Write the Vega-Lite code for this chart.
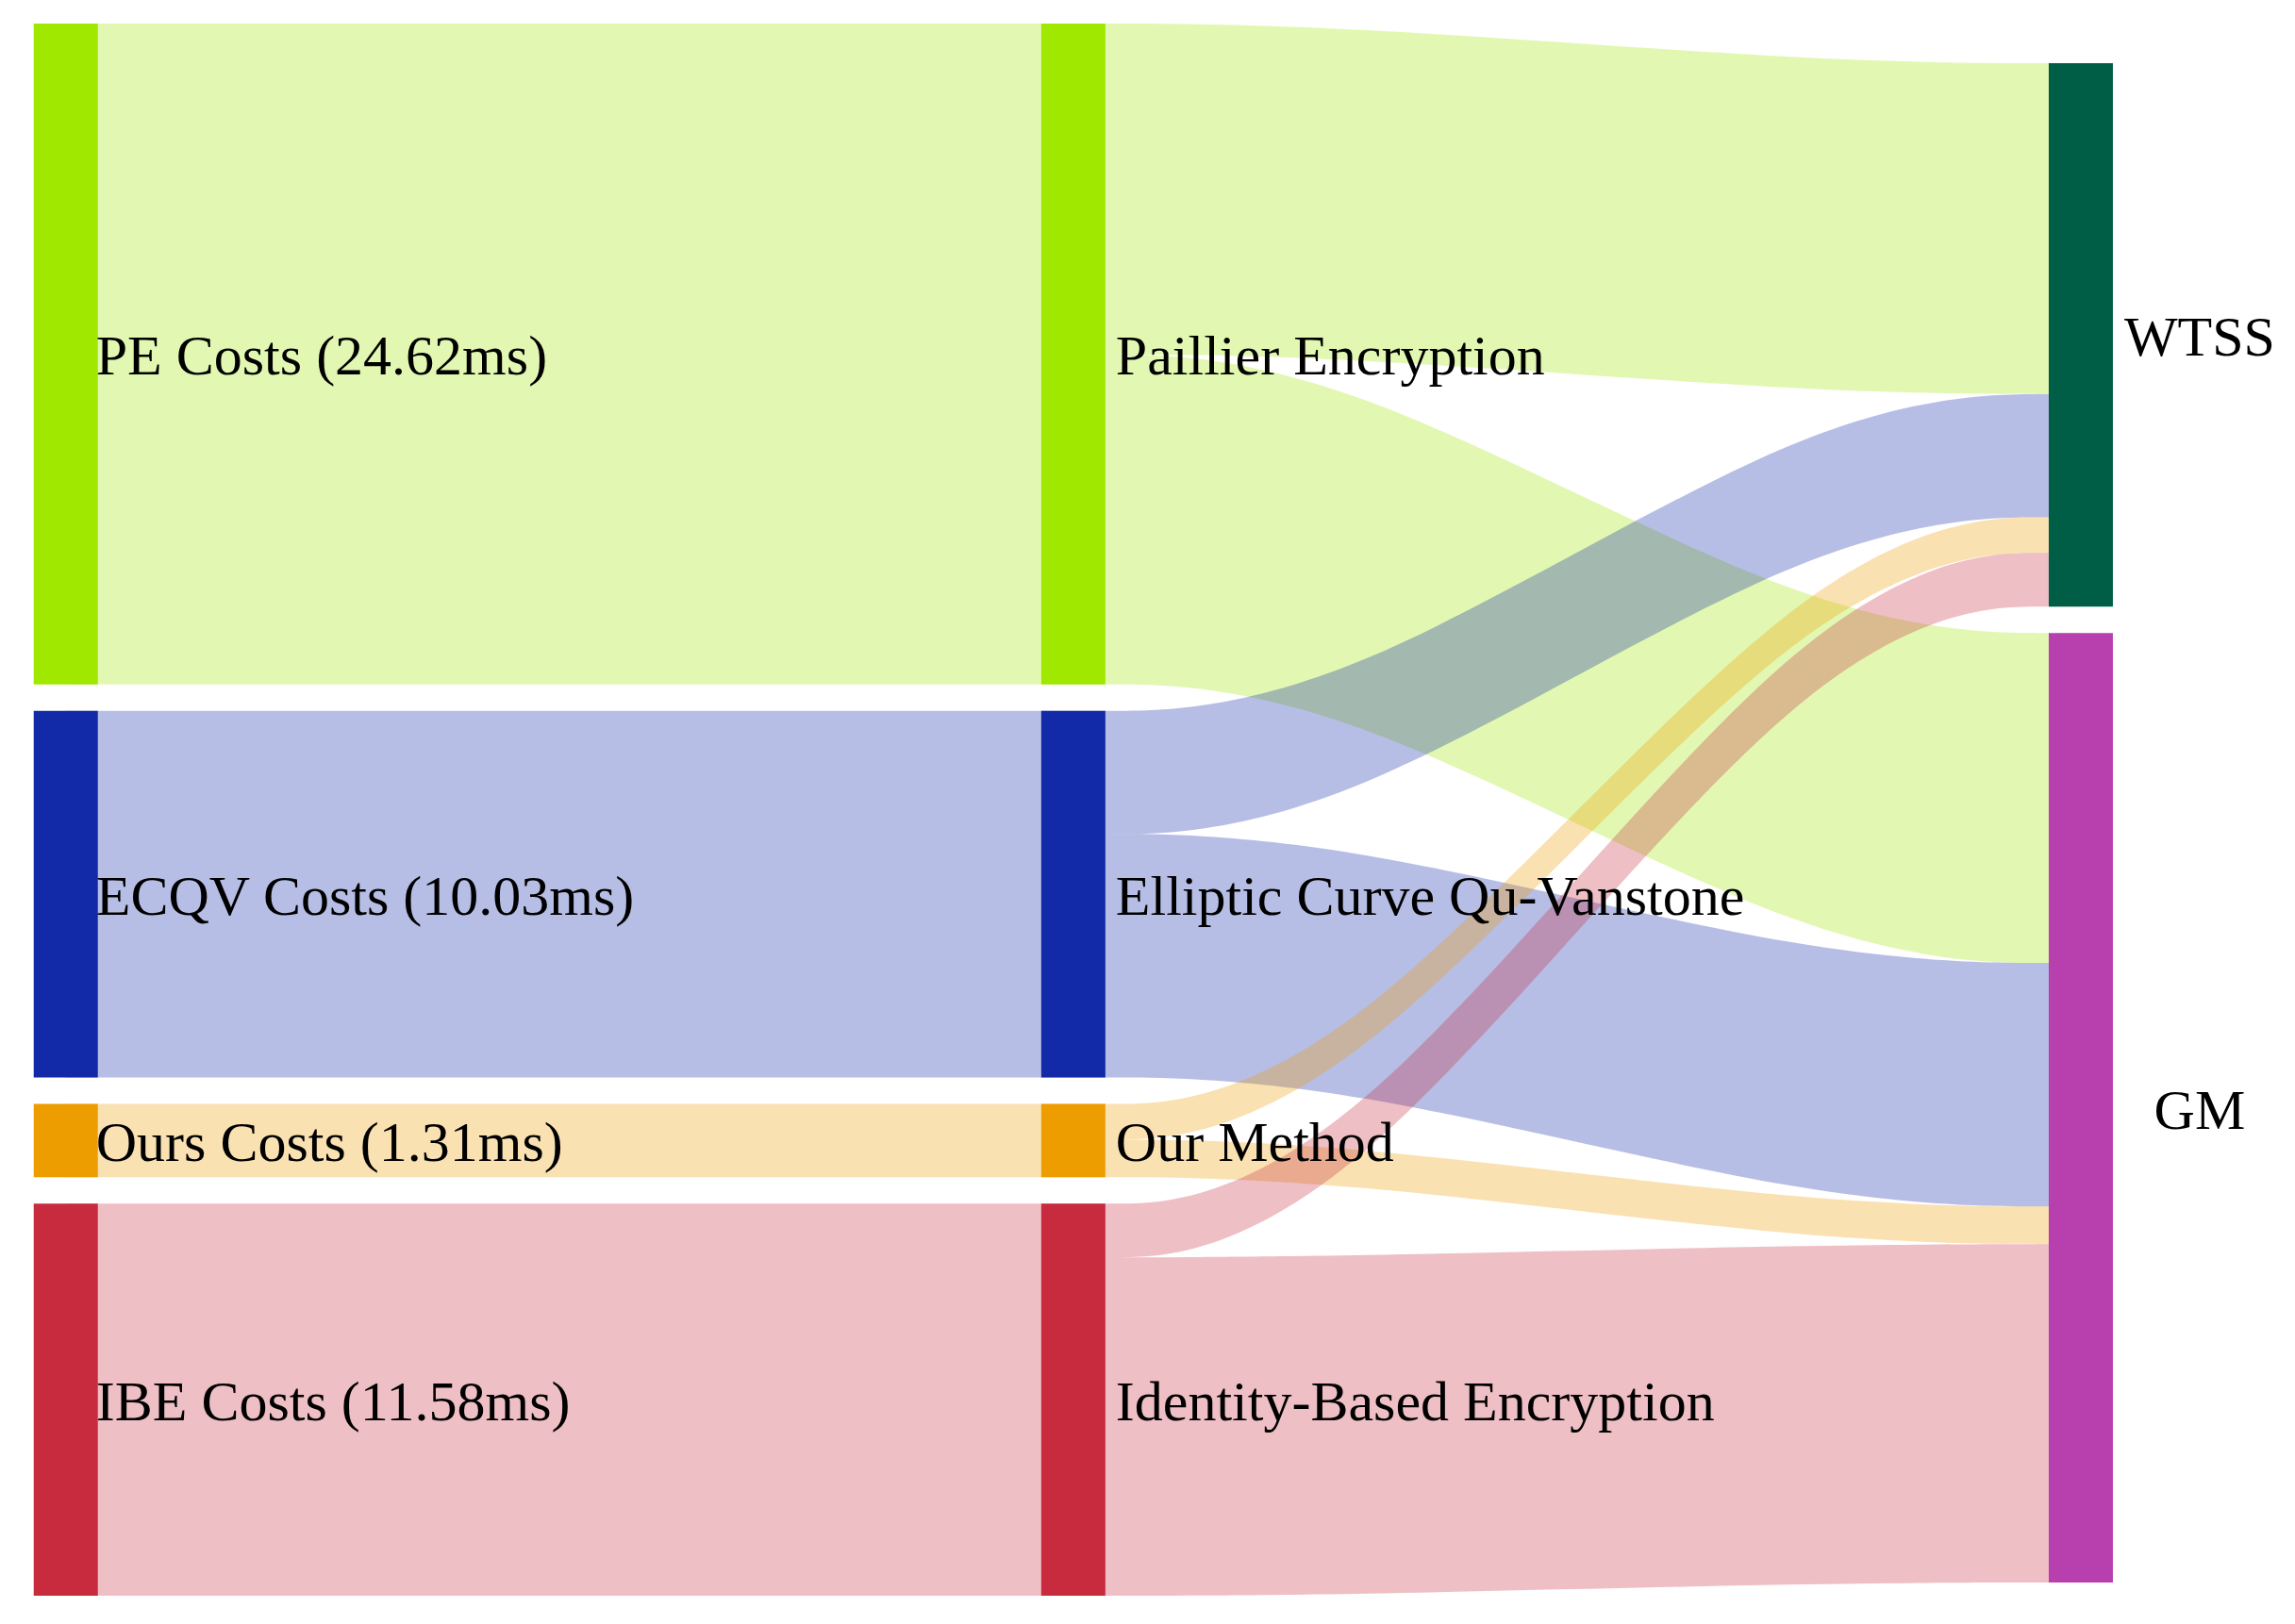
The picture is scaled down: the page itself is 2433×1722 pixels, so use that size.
{
  "$schema": "https://vega.github.io/schema/vega-lite/v6.json",
  "width": 2433,
  "height": 1722,
  "padding": 0,
  "autosize": {"type": "none"},
  "background": "#ffffff",
  "config": {"view": {"stroke": null}},
  "datasets": {
    "nodes": [
      {"node": "PE Costs (24.62ms)", "stage": 0, "order": 0},
      {"node": "ECQV Costs (10.03ms)", "stage": 0, "order": 1},
      {"node": "Ours Costs (1.31ms)", "stage": 0, "order": 2},
      {"node": "IBE Costs (11.58ms)", "stage": 0, "order": 3},
      {"node": "Paillier Encryption", "stage": 1, "order": 0},
      {"node": "Elliptic Curve Qu-Vanstone", "stage": 1, "order": 1},
      {"node": "Our Method", "stage": 1, "order": 2},
      {"node": "Identity-Based Encryption", "stage": 1, "order": 3},
      {"node": "WTSS", "stage": 2, "order": 0},
      {"node": "GM", "stage": 2, "order": 1}
    ],
    "links": [
      {"source": "PE Costs (24.62ms)", "target": "Paillier Encryption", "value": 703},
      {"source": "ECQV Costs (10.03ms)", "target": "Elliptic Curve Qu-Vanstone", "value": 390},
      {"source": "Ours Costs (1.31ms)", "target": "Our Method", "value": 78},
      {"source": "IBE Costs (11.58ms)", "target": "Identity-Based Encryption", "value": 417},
      {"source": "Paillier Encryption", "target": "WTSS", "value": 352},
      {"source": "Paillier Encryption", "target": "GM", "value": 351},
      {"source": "Elliptic Curve Qu-Vanstone", "target": "WTSS", "value": 131},
      {"source": "Elliptic Curve Qu-Vanstone", "target": "GM", "value": 259},
      {"source": "Our Method", "target": "WTSS", "value": 38},
      {"source": "Our Method", "target": "GM", "value": 40},
      {"source": "Identity-Based Encryption", "target": "WTSS", "value": 57},
      {"source": "Identity-Based Encryption", "target": "GM", "value": 360}
    ]
  },
  "data": {"name": "links"},
  "transform": [
    {"fold": ["source", "target"], "as": ["side", "node"]},
    {"lookup": "node", "from": {"data": {"name": "nodes"}, "key": "node", "fields": ["stage", "order"]}},
    {"lookup": "source", "from": {"data": {"name": "nodes"}, "key": "node", "fields": ["order"]}, "as": ["sOrder"]},
    {"lookup": "target", "from": {"data": {"name": "nodes"}, "key": "node", "fields": ["order"]}, "as": ["tOrder"]},
    {"stack": "value", "groupby": ["stage", "side"], "sort": [{"field": "order", "order": "ascending"}, {"field": "sOrder", "order": "ascending"}, {"field": "tOrder", "order": "ascending"}], "as": ["y0", "y1"]},
    {"joinaggregate": [{"op": "distinct", "field": "node", "as": "nNodes"}], "groupby": ["stage"]}
  ],
  "layer": [
    {
      "transform": [
        {"joinaggregate": [{"op": "mean", "field": "stage", "as": "mid"}], "groupby": ["source", "target"]},
        {"fold": ["stage", "mid"], "as": ["k1", "v1"]},
        {"joinaggregate": [{"op": "mean", "field": "v1", "as": "q"}], "groupby": ["source", "target", "side"]},
        {"filter": "datum.k1 == 'stage'"},
        {"fold": ["stage", "q"], "as": ["k2", "px"]}
      ],
      "mark": {
        "type": "area",
        "interpolate": "basis",
        "opacity": 0.3,
        "yOffset": {"expr": "(datum.order + (4 - datum.nNodes) * 0.75) * 28"},
        "y2Offset": {"expr": "(datum.order + (4 - datum.nNodes) * 0.75) * 28"}
      },
      "encoding": {
        "x": {"field": "px", "type": "quantitative", "scale": {"domain": [-0.0606, 2.2079], "nice": false, "zero": false}, "axis": null},
        "y": {"field": "y0", "type": "quantitative", "stack": null, "scale": {"domain": [-25.079, 1702.36], "reverse": true, "nice": false, "zero": false}, "axis": null},
        "y2": {"field": "y1"},
        "detail": [{"field": "source", "type": "nominal"}, {"field": "target", "type": "nominal"}],
        "color": {
          "field": "source", "type": "nominal", "legend": null,
          "scale": {
            "domain": ["PE Costs (24.62ms)", "ECQV Costs (10.03ms)", "Ours Costs (1.31ms)", "IBE Costs (11.58ms)", "Paillier Encryption", "Elliptic Curve Qu-Vanstone", "Our Method", "Identity-Based Encryption", "WTSS", "GM"],
            "range": ["#A0E800", "#1229A8", "#EE9D00", "#C82A3E", "#A0E800", "#1229A8", "#EE9D00", "#C82A3E", "#005E46", "#B83FAE"]
          }
        }
      }
    },
    {
      "transform": [
        {"aggregate": [{"op": "min", "field": "y0", "as": "top"}, {"op": "max", "field": "y1", "as": "bottom"}], "groupby": ["node", "stage", "order", "nNodes"]}
      ],
      "mark": {
        "type": "bar",
        "width": 68,
        "yOffset": {"expr": "(datum.order + (4 - datum.nNodes) * 0.75) * 28"},
        "y2Offset": {"expr": "(datum.order + (4 - datum.nNodes) * 0.75) * 28"}
      },
      "encoding": {
        "x": {"field": "stage", "type": "quantitative", "scale": {"domain": [-0.0606, 2.2079], "nice": false, "zero": false}, "axis": null},
        "y": {"field": "top", "type": "quantitative", "stack": null, "scale": {"domain": [-25.079, 1702.36], "reverse": true, "nice": false, "zero": false}, "axis": null},
        "y2": {"field": "bottom"},
        "color": {"field": "node", "type": "nominal", "legend": null}
      }
    },
    {
      "transform": [
        {"aggregate": [{"op": "min", "field": "y0", "as": "top"}, {"op": "max", "field": "y1", "as": "bottom"}], "groupby": ["node", "stage", "order", "nNodes"]},
        {"fold": ["top", "bottom"], "as": ["edge", "ey"]},
        {"aggregate": [{"op": "mean", "field": "ey", "as": "cy"}], "groupby": ["node", "stage", "order", "nNodes"]}
      ],
      "mark": {
        "type": "text",
        "font": "Liberation Serif",
        "fontSize": 60,
        "color": "#000000",
        "baseline": "middle",
        "align": {"expr": "datum.stage == 2 ? 'center' : 'left'"},
        "dx": {"expr": "datum.stage == 0 ? 32 : (datum.stage == 1 ? 45 : 126)"},
        "yOffset": {"expr": "(datum.order + (4 - datum.nNodes) * 0.75) * 28 + 4"}
      },
      "encoding": {
        "x": {"field": "stage", "type": "quantitative", "scale": {"domain": [-0.0606, 2.2079], "nice": false, "zero": false}, "axis": null},
        "y": {"field": "cy", "type": "quantitative", "scale": {"domain": [-25.079, 1702.36], "reverse": true, "nice": false, "zero": false}, "axis": null},
        "text": {"field": "node", "type": "nominal"}
      }
    }
  ]
}
